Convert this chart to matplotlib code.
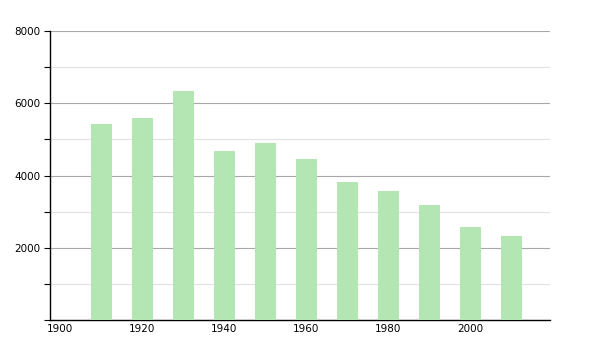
import matplotlib.pyplot as plt
from matplotlib.ticker import MultipleLocator

years = [1910, 1920, 1930, 1940, 1950, 1960, 1970, 1980, 1990, 2000, 2010]
population = [5425, 5583, 6339, 4678, 4900, 4457, 3820, 3571, 3183, 2574, 2325]

fig = plt.figure(figsize=(6, 3.5), dpi=100)
ax = fig.add_axes([50 / 600, 30 / 350, 500 / 600, 289 / 350])

ax.bar(years, population, width=5.1, color='#b3e6b3', zorder=3)

ax.set_xlim(1897.5, 2019.5)
ax.set_ylim(0, 8000)
ax.set_xticks([1900, 1920, 1940, 1960, 1980, 2000])
ax.set_yticks([2000, 4000, 6000, 8000])
ax.yaxis.set_minor_locator(MultipleLocator(1000))

ax.grid(axis='y', which='major', color='#a8a8a8', linewidth=0.8, zorder=1)
ax.grid(axis='y', which='minor', color='#e2e2e2', linewidth=0.8, zorder=1)

for s in ['top', 'right']:
    ax.spines[s].set_visible(False)
ax.spines['left'].set_linewidth(1.0)
ax.spines['bottom'].set_linewidth(1.0)

ax.tick_params(axis='x', length=0, labelsize=7.5, pad=3)
ax.tick_params(axis='y', which='both', length=4, width=0.8, labelsize=7.5, pad=3)
ax.tick_params(axis='y', which='minor', labelleft=False)

fig.savefig('out.png', dpi=100)
